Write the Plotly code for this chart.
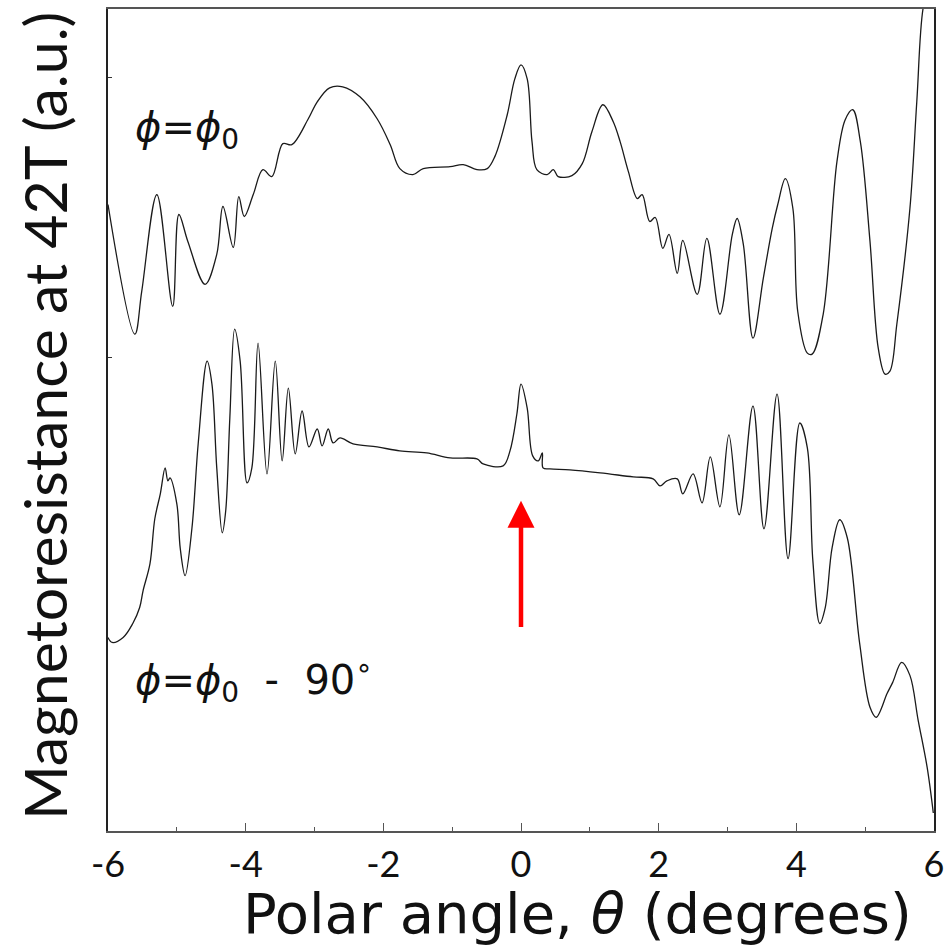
import plotly.graph_objects as go

# Polar-angle sweep at 42 T, phi = phi0 (upper trace)
theta_a = [-6.00, -5.61, -5.51, -5.29, -5.06, -4.97, -4.84, -4.59, -4.42, -4.33,
           -4.18, -4.10, -4.02, -3.89, -3.75, -3.62, -3.46, -3.33, -3.09, -2.96,
           -2.78, -2.59, -2.34, -2.09, -1.90, -1.76, -1.57, -1.42, -1.03, -0.84,
           -0.64, -0.49, -0.38, -0.20, -0.09, 0.00, 0.09, 0.16, 0.23, 0.38,
           0.47, 0.54, 0.74, 0.89, 1.03, 1.19, 1.34, 1.44, 1.56, 1.69,
           1.76, 1.87, 1.95, 2.06, 2.15, 2.27, 2.35, 2.56, 2.70, 2.89,
           3.07, 3.14, 3.23, 3.37, 3.52, 3.65, 3.73, 3.84, 3.95, 4.02,
           4.16, 4.23, 4.39, 4.59, 4.71, 4.82, 4.93, 5.07, 5.19, 5.29,
           5.36, 5.46, 5.65, 5.75, 5.84, 5.94]
mr_a = [6.27, 4.97, 5.40, 6.37, 5.25, 6.17, 5.90, 5.47, 5.77, 6.25,
        5.84, 6.35, 6.15, 6.37, 6.62, 6.55, 6.88, 6.87, 7.13, 7.30,
        7.44, 7.45, 7.35, 7.13, 6.87, 6.63, 6.57, 6.63, 6.65, 6.67,
        6.62, 6.63, 6.75, 7.17, 7.53, 7.67, 7.53, 6.90, 6.62, 6.57,
        6.62, 6.55, 6.56, 6.68, 7.00, 7.27, 7.10, 6.90, 6.60, 6.33,
        6.37, 6.10, 6.14, 5.83, 5.97, 5.58, 5.91, 5.37, 5.93, 5.17,
        5.97, 6.13, 5.87, 4.93, 5.53, 6.03, 6.27, 6.53, 6.23, 5.20,
        4.78, 4.77, 5.17, 6.70, 7.12, 7.22, 6.90, 5.90, 4.83, 4.57,
        4.60, 5.07, 6.23, 7.30, 8.23, 8.50]

# phi = phi0 - 90 deg (lower trace)
theta_b = [-6.00, -5.94, -5.78, -5.64, -5.54, -5.49, -5.39, -5.32, -5.24, -5.17,
           -5.13, -5.10, -5.00, -4.95, -4.88, -4.78, -4.69, -4.56, -4.49, -4.42,
           -4.34, -4.29, -4.23, -4.16, -4.08, -3.98, -3.91, -3.82, -3.69, -3.57,
           -3.47, -3.38, -3.28, -3.18, -3.08, -2.96, -2.89, -2.80, -2.73, -2.63,
           -2.44, -2.09, -1.76, -1.37, -1.03, -0.64, -0.55, -0.26, -0.16, -0.06,
           0.00, 0.09, 0.17, 0.25, 0.31, 0.32, 0.42, 0.71, 1.15, 1.63,
           1.92, 2.02, 2.12, 2.27, 2.35, 2.50, 2.63, 2.75, 2.89, 3.02,
           3.17, 3.37, 3.53, 3.72, 3.88, 4.05, 4.16, 4.24, 4.34, 4.42,
           4.52, 4.63, 4.74, 4.92, 5.07, 5.16, 5.32, 5.40, 5.53, 5.65,
           5.77, 5.90, 5.99]
mr_b = [1.93, 1.88, 1.93, 2.07, 2.23, 2.40, 2.67, 3.12, 3.37, 3.63,
        3.50, 3.53, 3.27, 2.82, 2.55, 3.03, 3.87, 4.70, 4.47, 3.63,
        2.98, 3.20, 4.13, 5.02, 4.70, 3.48, 3.63, 4.88, 3.57, 4.70,
        3.70, 4.43, 3.77, 4.20, 3.84, 4.02, 3.85, 4.02, 3.88, 3.93,
        3.87, 3.84, 3.80, 3.78, 3.73, 3.72, 3.67, 3.65, 3.80, 4.17,
        4.47, 4.23, 3.75, 3.70, 3.78, 3.63, 3.62, 3.61, 3.58, 3.54,
        3.52, 3.45, 3.50, 3.52, 3.37, 3.57, 3.28, 3.74, 3.24, 3.96,
        3.16, 4.25, 3.02, 4.37, 2.72, 4.08, 3.83, 2.70, 2.07, 2.23,
        2.83, 3.11, 2.93, 1.87, 1.23, 1.13, 1.37, 1.48, 1.68, 1.55,
        1.10, 0.63, 0.17]

x_ticks = [-6, -4, -2, 0, 2, 4, 6]
x_tick_text = ["-6", "-4", "-2", "0", "2", "4", "6"]
y_ticks = [4.74, 7.54]
x_range = [-6, 6]
y_range = [-0.01, 8.23]

NARROW = "Lato"
WIDE = "DejaVu Sans"
LINE = dict(color="#1a1a1a", width=1.3, shape="spline", smoothing=1.0)

fig = go.Figure()
fig.add_trace(go.Scatter(x=theta_a, y=mr_a, mode="lines", line=LINE,
                         showlegend=False, hoverinfo="skip"))
fig.add_trace(go.Scatter(x=theta_b, y=mr_b, mode="lines", line=LINE,
                         showlegend=False, hoverinfo="skip"))

# curve labels
fig.add_annotation(x=-5.64, y=7.02, xref="x", yref="y", xanchor="left",
                   yanchor="middle", showarrow=False,
                   text="<i>ϕ</i>=<i>ϕ</i><sub>0</sub>",
                   font=dict(family=WIDE, size=40, color="#111"))
fig.add_annotation(x=-5.64, y=1.50, xref="x", yref="y", xanchor="left",
                   yanchor="middle", showarrow=False,
                   text="<i>ϕ</i>=<i>ϕ</i><sub>0</sub>&nbsp;&nbsp;-&nbsp;&nbsp;90<sup>∘</sup>",
                   font=dict(family=WIDE, size=40, color="#111"))

# red arrow marking the theta = 0 resonance
fig.add_annotation(x=0, y=3.30, ax=0, ay=2.02, xref="x", yref="y",
                   axref="x", ayref="y", text="", showarrow=True,
                   arrowhead=2, arrowsize=1.2, arrowwidth=4.5,
                   arrowcolor="#ff0000")

# axis titles
fig.add_annotation(x=0.568, y=0, xref="paper", yref="paper", xanchor="center",
                   yanchor="middle", yshift=-82, showarrow=False,
                   text="Polar angle, <i>θ</i> (degrees)",
                   font=dict(family=WIDE, size=56, color="#111"))
fig.add_annotation(x=-0.076, y=0.505, xref="paper", yref="paper",
                   xanchor="center", yanchor="middle", textangle=-90,
                   showarrow=False, text="Magnetoresistance at 42T (a.u.)",
                   font=dict(family=NARROW, size=59, color="#111"))

fig.update_xaxes(range=x_range, tickvals=x_ticks, ticktext=x_tick_text,
                 ticks="inside", ticklen=8, tickwidth=1, tickcolor="#555",
                 minor=dict(dtick=1, ticks="inside", ticklen=4, tickcolor="#555"),
                 showline=True, linecolor="#555", linewidth=2, mirror=True,
                 showgrid=False, zeroline=False, ticklabelstandoff=1,
                 tickfont=dict(family=NARROW, size=36, color="#111"))
fig.update_yaxes(range=y_range, tickvals=y_ticks, showticklabels=False,
                 ticks="inside", ticklen=4, tickcolor="#333",
                 showline=True, linecolor="#222", linewidth=1.5, mirror=True,
                 showgrid=False, zeroline=False)

fig.update_layout(width=952, height=948,
                  margin=dict(l=108, r=18, t=7, b=117),
                  paper_bgcolor="white", plot_bgcolor="white")

fig.write_html("out.html")
